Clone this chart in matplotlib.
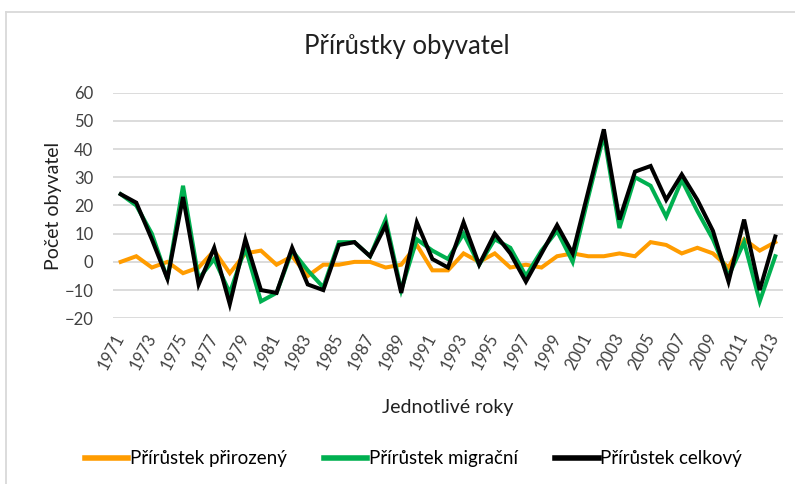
import matplotlib.pyplot as plt
from matplotlib.lines import Line2D

# Data
# -----------------------------------------------------------------------------
roky = list(range(1971, 2014))

prirozeny = [0, 2, -2, 0, -4, -2, 4, -4, 3, 4,
             -1, 2, -5, -1, -1, 0, 0, -2, -1, 6,
             -3, -3, 3, 0, 3, -2, -1, -2, 2, 3,
             2, 2, 3, 2, 7, 6, 3, 5, 3, -2,
             8, 4, 7]

migracni = [24, 20, 10, -6, 27, -6, 1, -11, 5, -14,
            -11, 4, -3, -9, 7, 7, 2, 15, -10, 8,
            4, 1, 10, -1, 8, 5, -5, 4, 11, 0,
            23, 45, 12, 30, 27, 16, 29, 18, 8, -5,
            7, -14, 2]

celkovy = [24, 21, 8, -6, 23, -8, 5, -15, 8, -10,
           -11, 5, -8, -10, 6, 7, 2, 13, -11, 14,
           1, -2, 14, -1, 10, 3, -7, 3, 13, 3,
           25, 47, 15, 32, 34, 22, 31, 22, 11, -7,
           15, -10, 9]

popisky = ["Přírůstek přirozený", "Přírůstek migrační", "Přírůstek celkový"]
barvy = ["#FF9C00", "#00B050", "#000000"]

# Graf
# -----------------------------------------------------------------------------
plt.rcParams["font.family"] = ["Lato", "DejaVu Sans"]

fig = plt.figure(figsize=(7.95, 4.84), dpi=100)
ax = fig.add_axes([0.142, 0.3424, 0.843, 0.4661])

for serie, barva, popis in zip([prirozeny, migracni, celkovy], barvy, popisky):
    ax.plot(roky, serie, color=barva, linewidth=2.9, label=popis,
            solid_joinstyle="miter")

ax.set_xlim(1970.5, 2013.5)
ax.set_ylim(-20, 60)
ax.set_yticks(range(-20, 61, 10))
ax.set_xticks(roky[::2])
ax.set_xticklabels([str(r) for r in roky[::2]], rotation=62, ha="right",
                   va="center", rotation_mode="anchor", fontsize=12,
                   color="#404040")
ax.tick_params(axis="x", length=0, pad=12)
ax.tick_params(axis="y", length=0, pad=14, labelsize=12, labelcolor="#404040")
ax.grid(axis="y", color="#D9D9D9", linewidth=1.3)
ax.set_axisbelow(True)
for s in ax.spines.values():
    s.set_visible(False)

fig.text(0.512, 0.903, "Přírůstky obyvatel", fontsize=18.5, color="#202020",
         ha="center", va="center")
ax.set_ylabel("Počet obyvatel", fontsize=14, color="#202020")
ax.yaxis.set_label_coords(-0.076, 0.5)
ax.set_xlabel("Jednotlivé roky", fontsize=14, color="#202020")
ax.xaxis.set_label_coords(0.5, -0.36)

handles = [Line2D([0], [0], color=b, linewidth=4) for b in barvy]
fig.legend(handles, popisky, loc="center", bbox_to_anchor=(0.52, 0.052),
           ncol=3, frameon=False, fontsize=13.5, handlelength=2.3,
           handletextpad=0.1, columnspacing=2.0)

# ramecek grafu
fig.add_artist(Line2D([6 / 795, 6 / 795], [0, 1 - 12 / 484],
                      transform=fig.transFigure, color="#D9D9D9", linewidth=1.3))
fig.add_artist(Line2D([6 / 795, 1], [1 - 12 / 484, 1 - 12 / 484],
                      transform=fig.transFigure, color="#D9D9D9", linewidth=1.3))

fig.savefig("out.png", dpi=100)
